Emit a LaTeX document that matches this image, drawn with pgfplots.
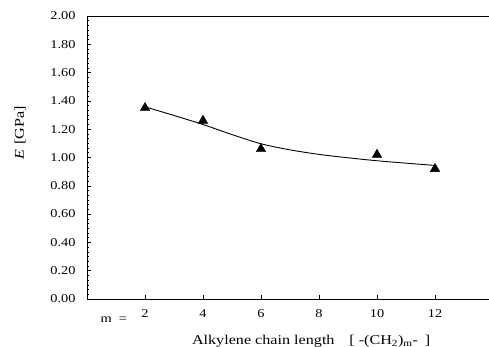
\documentclass[border=0pt]{standalone}
\usepackage{pgfplots}
\pgfplotsset{compat=1.18}
\usepackage{fontspec}
\setmainfont{Liberation Serif}[FakeStretch=1.2]
\usetikzlibrary{calc}
\begin{document}
\begin{tikzpicture}
\begin{axis}[
  name=ax,
  at={(0,0)}, anchor=south west,
  scale only axis,
  width=406bp, height=283bp,
  xmin=0, xmax=14, ymin=0, ymax=2,
  axis x line*=box, axis y line*=left,
  xtick={2,4,6,8,10,12},
  xtick pos=bottom,
  ytick={0,0.2,...,2.01},
  ytick pos=left,
  minor y tick num=5,
  tick align=inside,
  major tick length=4bp,
  minor tick length=2.5bp,
  tick style={black, line width=0.6pt},
  axis line style={line width=0.9pt},
  yticklabel style={/pgf/number format/.cd, fixed, fixed zerofill, precision=2, /tikz/.cd, font=\fontsize{12}{14}\selectfont, xshift=-8bp},
  xticklabel style={font=\fontsize{12}{14}\selectfont, yshift=-7bp},
  /pgf/number format/assume math mode=true,
  xlabel={Alkylene chain length\hspace{1.1em}[ -(CH\textsubscript{2})\textsubscript{m}-\hspace{0.5em}]},
  x label style={at={(rel axis cs:0.552,0)}, anchor=base, yshift=-45bp, font=\fontsize{13.5}{15}\selectfont},
  ylabel={\textit{E}\hspace{0.4em}[GPa]},
  y label style={at={(rel axis cs:-0.165,0.587)}, anchor=center, font=\fontsize{13.5}{15}\selectfont},
  clip=false,
]
\addplot[black, line width=0.9pt, smooth, no marks] coordinates {
  (2,1.358) (3,1.297) (4,1.233) (5,1.162) (6,1.097) (7,1.054) (8,1.022) (9,0.998) (10,0.977) (11,0.960) (12,0.944)
};
\addplot[only marks, mark=triangle*, mark size=5.5pt, black] coordinates {
  (2,1.35) (4,1.26) (6,1.06) (10,1.02) (12,0.92)
};
\node[anchor=base west, font=\fontsize{12}{14}\selectfont] at ($(axis cs:0,0)+(10bp,-23bp)$) {m\hspace{0.6em}=};
\end{axis}
\pgfresetboundingbox
\useasboundingbox (-87bp,-48bp) rectangle (402bp,299bp);
\end{tikzpicture}
\end{document}
